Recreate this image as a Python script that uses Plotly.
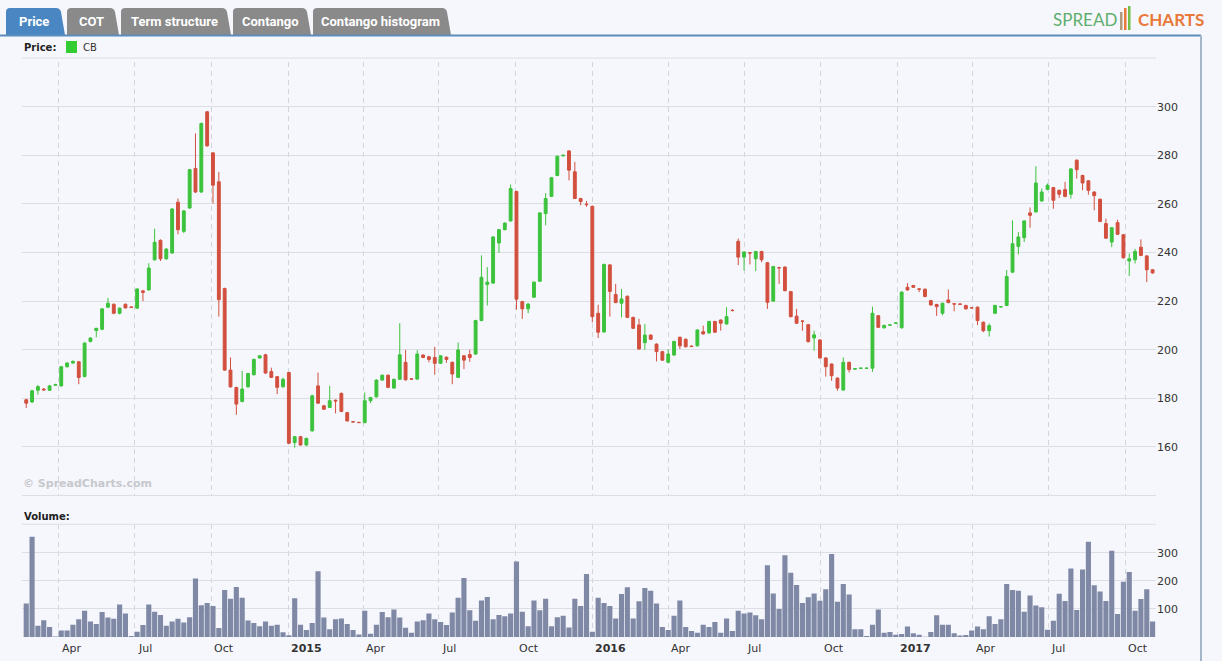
import plotly.graph_objects as go
import pandas as pd

W, H = 1222, 661

# ---------------- data ----------------
dates = pd.date_range("2014-02-21", periods=194, freq="7D")

open_ = [179.4, 178.5, 183.3, 183.8, 183.3, 185.4, 185.1, 193.0, 194.5, 195.0,
         189.0, 203.4, 207.9, 208.4, 217.5, 218.7, 215.0, 218.7, 217.6, 217.1,
         224.2, 224.6, 237.0, 245.0, 237.4, 239.8, 260.7, 248.7, 258.3, 274.6,
         264.9, 297.9, 281.0, 269.1, 225.2, 191.6, 184.4, 178.7, 184.7, 189.7,
         196.6, 197.9, 191.0, 188.9, 184.7, 190.6, 161.8, 164.2, 160.8, 166.6,
         185.1, 176.9, 176.2, 179.2, 182.0, 174.1, 170.4, 170.1, 170.0, 179.0,
         180.6, 187.5, 189.5, 184.2, 187.8, 194.8, 188.0, 187.9, 197.8, 197.1,
         196.8, 194.4, 196.9, 194.8, 188.6, 197.5, 198.0, 198.2, 212.0, 226.8,
         227.4, 243.9, 249.4, 253.0, 265.1, 219.8, 216.8, 221.6, 228.2, 256.0,
         263.1, 271.7, 279.8, 281.8, 273.2, 262.2, 259.9, 259.0, 215.0, 207.3,
         234.9, 222.7, 219.1, 222.0, 213.3, 210.2, 202.9, 206.0, 202.3, 199.2,
         194.8, 197.8, 205.1, 204.3, 201.5, 201.6, 207.4, 206.9, 211.6, 212.2,
         210.6, 216.2, 244.6, 238.1, 239.9, 237.4, 240.4, 235.8, 220.0, 233.8,
         234.0, 223.9, 213.8, 211.8, 210.3, 204.8, 204.0, 196.6, 194.1, 188.3,
         183.4, 194.8, 192.0, 192.3, 192.3, 192.4, 214.0, 209.0, 210.1, 210.9,
         209.0, 225.7, 226.4, 225.0, 224.9, 220.2, 218.6, 215.0, 220.5, 218.9,
         218.8, 218.2, 217.3, 217.5, 211.3, 207.8, 215.0, 217.6, 218.2, 231.9,
         242.5, 246.1, 256.3, 256.7, 261.2, 266.0, 266.7, 265.6, 265.9, 264.0,
         278.0, 271.7, 269.5, 264.9, 261.9, 251.9, 244.3, 252.3, 247.3, 236.5,
         237.0, 242.2, 238.6, 232.9]

high = [179.8, 183.5, 185.5, 184.2, 185.5, 186.0, 193.3, 194.8, 195.6, 195.4,
        203.2, 205.2, 209.0, 217.0, 221.3, 219.0, 217.4, 219.0, 217.8, 225.3,
        224.6, 235.6, 249.8, 245.4, 241.8, 258.3, 262.2, 257.5, 274.4, 289.0,
        293.5, 298.2, 281.3, 273.2, 225.5, 196.8, 184.8, 191.3, 190.5, 196.3,
        197.8, 198.3, 192.6, 189.2, 188.5, 190.9, 164.5, 164.5, 163.8, 181.5,
        190.6, 177.3, 185.1, 179.5, 182.4, 174.4, 170.6, 170.3, 182.4, 180.6,
        187.8, 189.8, 189.8, 188.1, 210.9, 199.9, 188.2, 199.8, 198.1, 197.4,
        201.2, 197.8, 197.2, 195.1, 203.0, 197.8, 200.0, 212.3, 238.8, 234.0,
        246.7, 249.7, 252.4, 268.0, 265.4, 220.1, 219.1, 228.1, 256.6, 264.5,
        271.1, 279.9, 280.3, 282.1, 277.3, 262.5, 261.2, 259.3, 218.5, 235.4,
        235.2, 227.1, 225.0, 222.3, 213.6, 212.7, 210.6, 206.3, 202.6, 199.5,
        200.2, 203.7, 205.4, 204.6, 201.7, 208.4, 209.9, 211.9, 211.9, 212.5,
        217.5, 216.7, 245.7, 240.5, 240.1, 240.7, 240.7, 236.1, 234.5, 234.1,
        234.3, 224.2, 216.8, 212.0, 210.6, 207.8, 204.3, 196.9, 194.4, 188.6,
        196.8, 195.1, 192.4, 192.6, 192.6, 217.7, 214.3, 210.3, 210.5, 211.3,
        224.0, 227.4, 226.7, 225.3, 225.2, 220.5, 218.9, 219.4, 224.8, 219.1,
        219.0, 218.5, 217.5, 217.8, 211.6, 210.8, 218.5, 217.9, 232.8, 253.2,
        248.4, 253.3, 258.5, 275.5, 266.3, 268.4, 267.0, 265.9, 269.1, 274.7,
        278.3, 272.0, 269.8, 265.2, 262.2, 253.9, 250.5, 253.5, 247.6, 239.6,
        241.5, 245.4, 238.9, 233.2]

low = [176.0, 178.0, 181.5, 183.0, 183.0, 185.2, 184.8, 192.6, 194.2, 185.8,
       188.6, 203.0, 205.1, 208.0, 217.2, 214.6, 214.5, 217.0, 217.2, 216.8,
       220.0, 224.3, 236.6, 236.5, 237.0, 239.4, 247.5, 248.0, 258.0, 264.5,
       264.5, 283.5, 260.1, 213.6, 191.3, 184.4, 173.2, 178.3, 184.4, 189.4,
       196.3, 190.0, 188.3, 181.7, 184.4, 161.2, 159.7, 160.5, 160.3, 166.2,
       177.7, 175.2, 176.0, 173.8, 174.3, 170.4, 170.0, 169.8, 169.7, 178.0,
       180.3, 187.2, 184.2, 183.9, 187.5, 187.3, 187.6, 187.6, 196.5, 194.8,
       189.7, 194.1, 194.6, 185.8, 188.3, 192.0, 195.0, 197.9, 211.7, 218.2,
       227.1, 239.8, 249.1, 252.7, 216.5, 212.7, 215.0, 221.3, 227.9, 251.2,
       262.8, 271.4, 279.5, 269.7, 262.0, 259.4, 258.8, 211.3, 204.8, 207.0,
       213.6, 219.1, 213.3, 213.0, 208.5, 200.0, 200.0, 204.0, 195.2, 195.4,
       194.5, 197.5, 200.3, 200.9, 201.1, 201.3, 206.2, 206.6, 206.9, 207.8,
       210.3, 215.8, 234.8, 232.6, 235.1, 232.3, 236.0, 216.8, 219.7, 227.1,
       224.0, 213.3, 210.6, 207.8, 203.0, 199.6, 196.3, 188.9, 187.2, 183.1,
       183.1, 190.6, 191.8, 192.1, 192.1, 190.9, 208.9, 208.7, 209.9, 210.7,
       208.7, 224.3, 225.4, 223.7, 221.6, 218.1, 213.9, 214.2, 219.1, 215.8,
       218.5, 216.5, 217.0, 210.2, 207.2, 205.4, 214.7, 217.4, 217.9, 231.6,
       239.2, 244.3, 250.2, 256.4, 260.9, 265.6, 258.0, 262.5, 262.7, 262.2,
       270.4, 265.6, 263.8, 257.4, 252.5, 245.6, 242.2, 247.2, 237.5, 230.3,
       235.5, 238.5, 227.8, 231.3]

close = [178.0, 183.1, 184.8, 183.5, 185.1, 185.6, 193.0, 194.5, 195.2, 188.6,
         202.7, 204.8, 208.8, 216.8, 219.1, 215.0, 217.1, 217.2, 217.4, 225.0,
         223.6, 233.6, 244.2, 237.4, 241.4, 257.9, 249.4, 257.1, 274.1, 264.9,
         293.1, 283.9, 267.7, 220.6, 191.6, 184.7, 177.6, 183.8, 190.2, 196.0,
         197.5, 190.4, 188.6, 184.5, 187.8, 161.5, 164.2, 160.8, 163.5, 181.0,
         178.0, 175.5, 179.0, 178.9, 174.6, 170.7, 170.3, 170.0, 179.0, 180.3,
         187.5, 189.5, 184.5, 187.8, 197.9, 187.6, 187.9, 198.2, 196.8, 196.0,
         194.4, 197.5, 196.0, 190.0, 199.9, 195.7, 196.8, 212.0, 229.8, 227.8,
         246.4, 249.4, 252.1, 266.3, 220.8, 216.8, 218.8, 227.8, 256.3, 262.2,
         270.8, 279.6, 280.0, 273.9, 262.2, 261.0, 259.7, 213.6, 207.2, 235.1,
         224.0, 219.4, 220.9, 213.3, 208.8, 200.3, 206.0, 204.3, 199.2, 195.7,
         198.2, 203.4, 201.6, 201.2, 201.3, 208.1, 206.5, 211.6, 207.2, 210.9,
         213.6, 216.1, 238.1, 240.2, 239.8, 240.4, 237.0, 219.5, 234.2, 233.7,
         224.3, 213.6, 210.9, 211.7, 203.3, 206.1, 196.6, 193.0, 189.3, 184.2,
         194.8, 191.8, 192.2, 192.4, 192.4, 215.0, 209.2, 210.0, 210.2, 211.0,
         223.7, 224.6, 225.7, 224.9, 221.9, 218.4, 217.7, 219.1, 219.4, 218.8,
         218.7, 216.8, 217.2, 212.0, 207.8, 209.9, 218.2, 217.7, 230.1, 243.6,
         246.4, 253.0, 255.3, 268.6, 264.9, 267.7, 261.5, 264.0, 263.1, 274.4,
         274.1, 268.6, 265.6, 263.4, 252.8, 245.9, 250.2, 247.5, 237.8, 237.4,
         240.4, 238.8, 232.9, 231.6]

volume = [119, 357, 40, 60, 36, 2, 23, 23, 44, 63,
          93, 55, 46, 89, 69, 65, 116, 84, 4, 19,
          43, 116, 90, 78, 40, 55, 65, 52, 70, 208,
          113, 121, 110, 32, 167, 136, 178, 140, 59, 50,
          38, 55, 40, 44, 17, 6, 138, 44, 25, 50,
          234, 69, 28, 63, 66, 46, 25, 9, 93, 12,
          44, 89, 70, 98, 69, 33, 15, 55, 60, 84,
          63, 53, 43, 87, 140, 210, 95, 58, 130, 142,
          63, 78, 74, 84, 269, 90, 38, 130, 95, 136,
          38, 70, 76, 34, 136, 110, 224, 19, 140, 121,
          110, 66, 153, 177, 66, 127, 174, 165, 119, 36,
          25, 76, 130, 36, 21, 15, 44, 36, 53, 15,
          66, 21, 93, 84, 87, 77, 63, 255, 155, 100,
          291, 229, 185, 121, 141, 155, 129, 170, 295, 125,
          189, 151, 28, 28, 4, 44, 98, 15, 18, 8,
          11, 37, 13, 8, 1, 18, 77, 44, 44, 13,
          5, 7, 23, 37, 28, 74, 46, 63, 189, 167,
          165, 90, 148, 112, 106, 26, 58, 154, 128, 244,
          96, 240, 339, 184, 162, 128, 307, 82, 197, 231,
          93, 135, 170, 55]

tick_dates = ["2014-04-01", "2014-07-01", "2014-10-01", "2015-01-01", "2015-04-01",
              "2015-07-01", "2015-10-01", "2016-01-01", "2016-04-01", "2016-07-01",
              "2016-10-01", "2017-01-01", "2017-04-01", "2017-07-01", "2017-10-01"]
tick_labels = ["Apr", "Jul", "Oct", "2015", "Apr", "Jul", "Oct", "2016", "Apr", "Jul",
               "Oct", "2017", "Apr", "Jul", "Oct"]

price_ticks = [160, 180, 200, 220, 240, 260, 280, 300]
volume_ticks = [100, 200, 300]
tabs = ["Price", "COT", "Term structure", "Contango", "Contango histogram"]

# ---------------- style ----------------
BG = "#f6f7fc"
GREEN = "#3cc23c"
RED = "#d24f3e"
VOL = "#7f89a6"
GRID = "#dcdee3"
DASH = "#d3d5da"
FONT = "DejaVu Sans, Verdana, sans-serif"
COND = "Roboto, Liberation Sans, sans-serif"


def px(x):
    return x / W


def py(y):
    return 1 - y / H


PLOT_L, PLOT_R = 22, 1156
P_TOP, P_BOT = 62, 495
V_TOP, V_BOT = 524.3, 637

x_range = ["2014-02-15 22:00", "2017-11-07 02:00"]

fig = go.Figure()

fig.add_trace(go.Candlestick(
    x=dates, open=open_, high=high, low=low, close=close,
    increasing=dict(line=dict(color=GREEN, width=1), fillcolor=GREEN),
    decreasing=dict(line=dict(color=RED, width=1), fillcolor=RED),
    xaxis="x", yaxis="y", showlegend=False, hoverinfo="skip",
))

fig.add_trace(go.Bar(
    x=dates, y=volume, marker=dict(color=VOL, line=dict(width=0)),
    xaxis="x2", yaxis="y2", showlegend=False, hoverinfo="skip",
))

xcommon = dict(
    type="date", range=x_range, domain=[px(PLOT_L), px(PLOT_R)],
    tickvals=tick_dates, showticklabels=False, ticks="",
    showgrid=True, gridcolor=DASH, griddash="5px,4px", gridwidth=1,
    zeroline=False, fixedrange=True,
)

fig.update_layout(
    width=W, height=H,
    margin=dict(l=0, r=0, t=0, b=0),
    paper_bgcolor=BG, plot_bgcolor=BG,
    font=dict(family=FONT, size=11, color="#333333"),
    bargap=0.12,
    xaxis=dict(**xcommon, anchor="y", rangeslider=dict(visible=False),
               showline=True, linecolor=GRID, linewidth=1),
    yaxis=dict(domain=[py(P_BOT), py(P_TOP)], range=[140.2, 318.4], side="right",
               anchor="x", tickvals=price_ticks, ticks="", showgrid=True,
               gridcolor=GRID, gridwidth=1, zeroline=False, showline=False,
               tickfont=dict(size=11, color="#333333", family=FONT), fixedrange=True),
    xaxis2=dict(**xcommon, anchor="y2", matches="x"),
    yaxis2=dict(domain=[py(V_BOT), py(V_TOP)], range=[0, 401], side="right",
                anchor="x2", tickvals=volume_ticks, ticks="", showgrid=True,
                gridcolor=GRID, gridwidth=1, zeroline=False, showline=False,
                tickfont=dict(size=11, color="#333333", family=FONT), fixedrange=True),
)

shapes = []
annotations = []

# tabs
tab_edges = [(6, 64), (67, 118), (121, 230), (233, 310), (313, 450)]
for i, ((a, b), name) in enumerate(zip(tab_edges, tabs)):
    col = "#4a87c2" if i == 0 else "#8a8a8a"
    path = (f"M {px(a)} {py(35)} L {px(a)} {py(12)} Q {px(a)} {py(8)} {px(a+4)} {py(8)} "
            f"L {px(b-8)} {py(8)} Q {px(b-4)} {py(8)} {px(b-3)} {py(12)} L {px(b+1)} {py(35)} Z")
    shapes.append(dict(type="path", path=path, xref="paper", yref="paper",
                       fillcolor=col, line=dict(width=0), layer="above"))
    annotations.append(dict(x=px((a + b) / 2 - 1), y=py(21.5), xref="paper", yref="paper",
                            text=f"<b>{name}</b>", showarrow=False,
                            font=dict(family=COND, size=13, color="white"),
                            xanchor="center", yanchor="middle"))

# frame line under tabs and right border
shapes.append(dict(type="line", xref="paper", yref="paper", x0=0, x1=px(1201),
                   y0=py(35.5), y1=py(35.5), line=dict(color="#5b8cbc", width=2)))
shapes.append(dict(type="line", xref="paper", yref="paper", x0=px(1201), x1=px(1201),
                   y0=py(35.5), y1=py(661), line=dict(color="#a5b6c8", width=2)))

# legend line and volume pane top line
shapes.append(dict(type="line", xref="paper", yref="paper", x0=px(PLOT_L), x1=px(PLOT_R),
                   y0=py(58), y1=py(58), line=dict(color=GRID, width=1)))
shapes.append(dict(type="line", xref="paper", yref="paper", x0=px(PLOT_L), x1=px(PLOT_R),
                   y0=py(V_TOP), y1=py(V_TOP), line=dict(color=GRID, width=1)))

# legend
annotations.append(dict(x=px(22), y=py(47), xref="paper", yref="paper", text="<b>Price:</b>",
                        showarrow=False, xanchor="left", yanchor="middle",
                        font=dict(family=FONT, size=10, color="#222222")))
shapes.append(dict(type="rect", xref="paper", yref="paper", x0=px(66), x1=px(77),
                   y0=py(53), y1=py(41), fillcolor="#33cc33", line=dict(width=0)))
annotations.append(dict(x=px(81), y=py(47), xref="paper", yref="paper", text="CB",
                        showarrow=False, xanchor="left", yanchor="middle",
                        font=dict(family=FONT, size=10, color="#333333")))

annotations.append(dict(x=px(22), y=py(516), xref="paper", yref="paper", text="<b>Volume:</b>",
                        showarrow=False, xanchor="left", yanchor="middle",
                        font=dict(family=FONT, size=10, color="#222222")))

annotations.append(dict(x=px(21), y=py(483), xref="paper", yref="paper",
                        text="<b>© SpreadCharts.com</b>", showarrow=False,
                        xanchor="left", yanchor="middle",
                        font=dict(family=FONT, size=11, color="#c6c8cc")))

# x-axis labels
for d, t in zip(tick_dates, tick_labels):
    txt = f"<b>{t}</b>" if t.isdigit() else t
    annotations.append(dict(x=d, y=py(648), xref="x2", yref="paper", text=txt,
                            showarrow=False, xanchor="left", yanchor="middle", xshift=1,
                            font=dict(family=FONT, size=11, color="#333333")))

# logo
annotations.append(dict(x=px(1119), y=py(20), xref="paper", yref="paper", text="SPREAD",
                        showarrow=False, xanchor="right", yanchor="middle",
                        font=dict(family="Lato, Open Sans, sans-serif", size=17, color="#5fae6e")))
annotations.append(dict(x=px(1136), y=py(20), xref="paper", yref="paper", text="<b>CHARTS</b>",
                        showarrow=False, xanchor="left", yanchor="middle",
                        font=dict(family="Lato, Open Sans, sans-serif", size=17, color="#e8793a")))
for (a, b, t, c) in [(1120, 1122.5, 12, "#b09a80"), (1124, 1126.5, 8, "#e8793a"),
                     (1128, 1130.5, 6, "#6fbf4a")]:
    shapes.append(dict(type="rect", xref="paper", yref="paper", x0=px(a), x1=px(b),
                       y0=py(30), y1=py(t), fillcolor=c, line=dict(width=0)))

fig.update_layout(shapes=shapes, annotations=annotations)

fig.write_html("out.html", config=dict(displayModeBar=False, staticPlot=True),
               post_script="document.body.style.margin='0';document.body.style.overflow='hidden';")
